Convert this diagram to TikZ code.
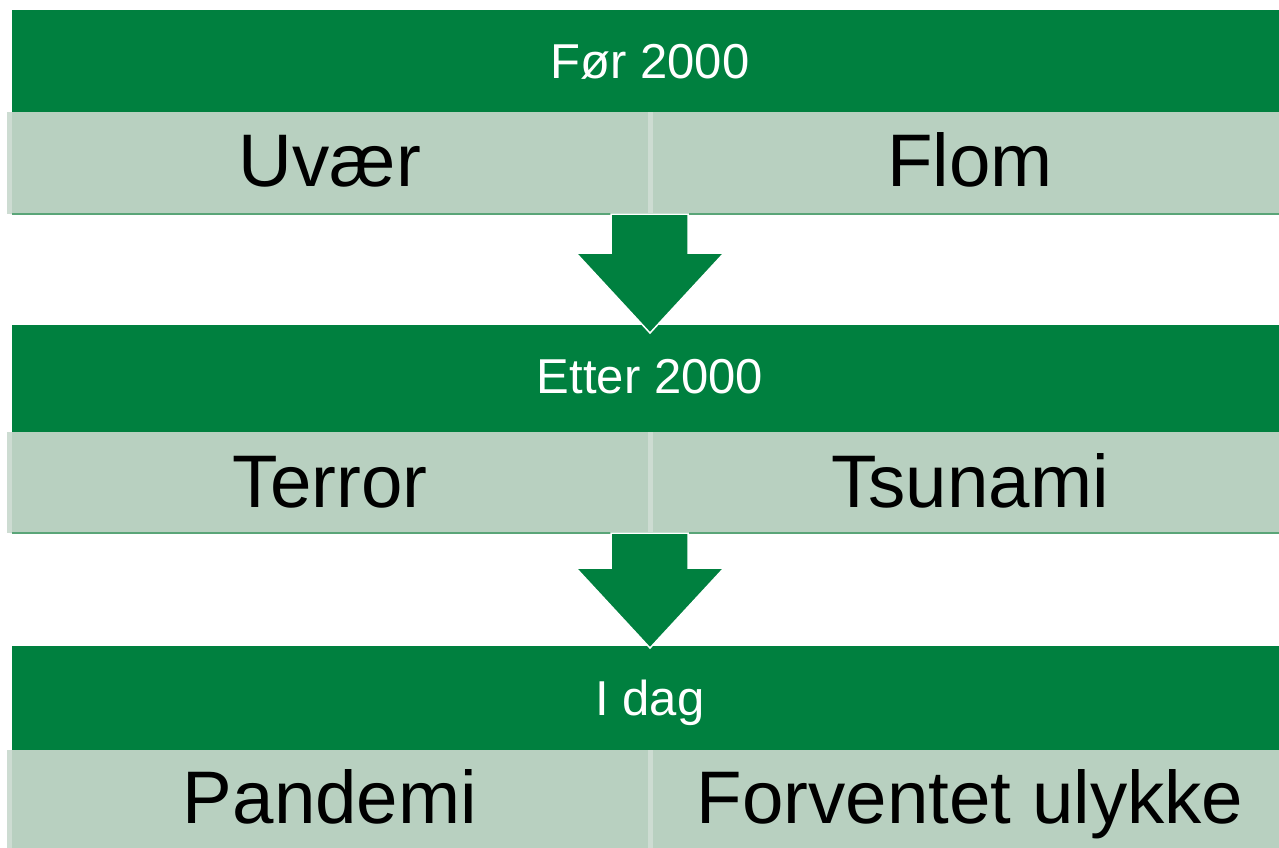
\documentclass[tikz,border=0pt]{standalone}
\usepackage{fontspec}
\setmainfont{Liberation Sans}
\definecolor{dgreen}{RGB}{0,128,63}
\definecolor{lgreen}{RGB}{184,208,192}
\definecolor{sepgreen}{RGB}{205,220,210}
\definecolor{lineg}{RGB}{90,165,120}
\tikzset{
  header/.style={fill=dgreen,draw=none},
  cell/.style={fill=lgreen,draw=none},
  htext/.style={text=white,anchor=base,font=\fontsize{49}{52}\selectfont},
  ctext/.style={text=black,anchor=base,font=\fontsize{74.5}{78}\selectfont},
  downarrow/.style={fill=dgreen,draw=white,line width=1.5pt,line join=miter},
}
\begin{document}
\begin{tikzpicture}[x=1pt,y=-1pt]
\useasboundingbox (0,0) rectangle (1279,847);
% row geometry: header top, header bottom/cell top, cell bottom
\foreach \ht/\hb/\cb [count=\i] in {10/112/214, 325/432/533, 646/750/860}{
  \fill[header] (12,\ht) rectangle (1279,\hb);
  \fill[cell,rounded corners=3pt] (7,\hb) rectangle (1290,\cb);
  \fill[sepgreen] (7,\hb) rectangle (12,\cb);
  \fill[sepgreen] (648,\hb) rectangle (653,\cb);
}
\draw[lineg,line width=1.5pt] (12,214) -- (1279,214);
\draw[lineg,line width=1.5pt] (12,533) -- (1279,533);
% headers text
\node[htext] (h1) at (650,78) {Før 2000};
\node[htext] (h2) at (650,393) {Etter 2000};
\node[htext] (h3) at (650,715) {I dag};
% cells text
\node[ctext] (c11) at (330,186) {Uvær};
\node[ctext] (c12) at (970,186) {Flom};
\node[ctext] (c21) at (330,507) {Terror};
\node[ctext] (c22) at (970,507) {Tsunami};
\node[ctext] (c31) at (330,823) {Pandemi};
\node[ctext] (c32) at (970,823) {Forventet ulykke};
% arrows
\draw[downarrow] (611,214) -- (688,214) -- (688,253) -- (724,253) -- (650,333) -- (576,253) -- (611,253) -- cycle;
\draw[downarrow] (611,533) -- (688,533) -- (688,568) -- (724,568) -- (650,648) -- (576,568) -- (611,568) -- cycle;
\end{tikzpicture}
\end{document}
